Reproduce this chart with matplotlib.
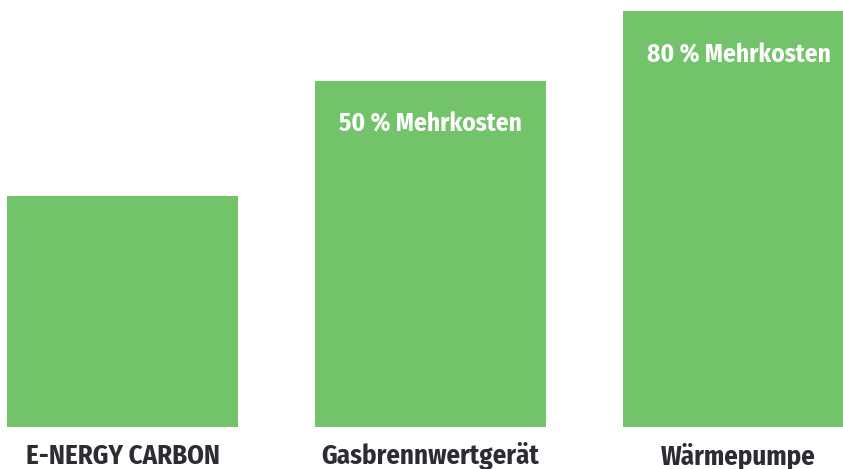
import matplotlib
matplotlib.use("Agg")
import matplotlib.pyplot as plt
from matplotlib.transforms import blended_transform_factory

categories = ["E-NERGY CARBON", "Gasbrennwertgerät", "Wärmepumpe"]
values = [100, 150, 180]
inner_labels = ["", "50 % Mehrkosten", "80 % Mehrkosten"]

plt.rcParams['font.family'] = ['Fira Sans Condensed', 'Open Sans Condensed', 'DejaVu Sans']

fig = plt.figure(figsize=(8.43, 4.69), dpi=100)
ax = fig.add_axes([0, 42/469, 1, 1 - 42/469])
green = "#72C36A"
x = list(range(len(categories)))
ax.bar(x, values, width=0.75, color=green, linewidth=0)
ax.set_xlim(-0.398, 2.339)
ax.set_ylim(0, 184.85)
ax.axis('off')

for i, (v, lab) in enumerate(zip(values, inner_labels)):
    if lab:
        ax.annotate(lab, (i, v), xytext=(0, -36.7), textcoords='offset points',
                    ha='center', va='baseline', color='white',
                    fontsize=18.2, fontweight='bold')

trans = blended_transform_factory(ax.transData, fig.transFigure)
for i, c in enumerate(categories):
    ax.text(i, 5/469, c, transform=trans, ha='center', va='baseline',
            color='#2b2d33', fontsize=19.3, fontweight='bold')

fig.savefig("out.png", dpi=100)
